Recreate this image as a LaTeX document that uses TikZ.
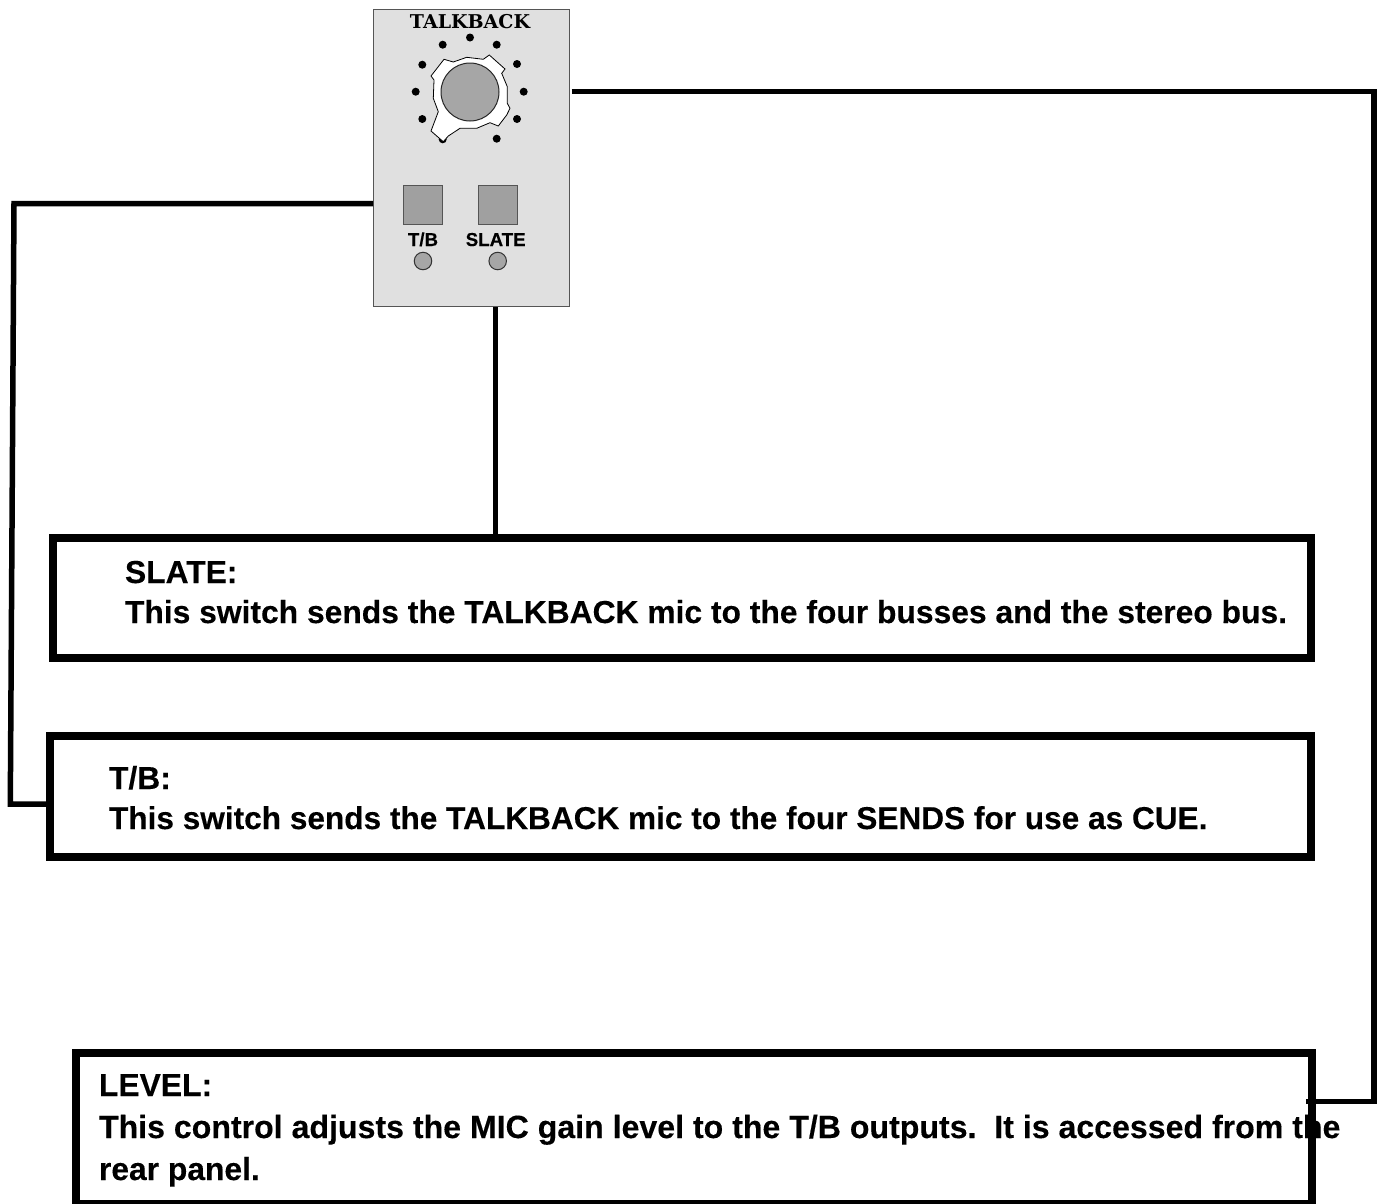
\documentclass[tikz,border=0pt]{standalone}
\usepackage{fontspec}
\setmainfont{Liberation Sans}[BoldFeatures={FakeBold=0.25}]
\newfontfamily\panelserif{DejaVu Serif}
\definecolor{panelfill}{HTML}{E0E0E0}
\definecolor{panelline}{HTML}{555555}
\definecolor{knobgray}{HTML}{A6A6A6}
\definecolor{btngray}{HTML}{A0A0A0}
\tikzset{
  every node/.style={outer sep=0pt},
  notebox/.style={draw=black,line width=8pt,inner sep=0pt,anchor=north west},
  wire/.style={draw=black,line width=5.5pt,line cap=butt,line join=miter},
  note/.style={anchor=base west,inner sep=0pt,font=\fontsize{31.8}{36}\selectfont\bfseries},
  paneltext/.style={inner sep=0pt,anchor=base,font=\fontsize{18.7}{20}\selectfont\bfseries},
  btn/.style={draw=panelline,line width=1pt,fill=btngray,minimum width=39pt,minimum height=39pt,inner sep=0pt},
  led/.style={circle,draw=black!80,line width=1pt,fill=knobgray,minimum size=17.5pt,inner sep=0pt},
  tick/.style={circle,fill=black,minimum size=8pt,inner sep=0pt}
}
\begin{document}
\begin{tikzpicture}[x=1pt,y=-1pt]
\useasboundingbox (0,0) rectangle (1384,1203);
% panel
\node[draw=panelline,line width=1pt,fill=panelfill,minimum width=196.3pt,minimum height=297.4pt,inner sep=0pt,anchor=north west] (panel) at (373,9.3) {};
\node[inner sep=0pt,font=\panelserif\fontsize{19}{20}\selectfont\bfseries] (title) at (470,21.5) {TALKBACK};
% knob scale
\foreach \n/\a/\b in {a/470/37.5,b/442.7/44.7,c/496.7/44.7,d/422.3/64.7,e/517/64,f/415.7/91.7,g/523.7/91.7,h/422.3/119,i/517/119,j/442.7/139.3,k/496.7/138.7}
  \node[tick] (dot\n) at (\a,\b) {};
\draw[fill=white,draw=black,line width=0.8pt] (444,59.3) -- (453.3,62) -- (466.7,57.3) -- (483.3,59.3) -- (489.3,55) -- (505,69) -- (501.7,73.3) -- (507.3,86.7) -- (507.3,103.3) -- (510,108.3) -- (506.7,115) -- (498.3,126) -- (490,122.7) -- (476.7,128.3) -- (460,128.3) -- (448.3,136) -- (443.3,141.7) -- (431,131) -- (438.3,111.7) -- (433.3,98.3) -- (434,80) -- (431,76) -- cycle;
\node[circle,draw=black!85,line width=1pt,fill=knobgray,minimum size=58pt,inner sep=0pt] (knob) at (470,92) {};
% buttons
\node[btn] (tbbtn) at (423.3,205.2) {};
\node[btn] (slatebtn) at (497.7,205.2) {};
\node[paneltext] (tblabel) at (423,246) {T/B};
\node[paneltext] (slatelabel) at (495.7,246) {SLATE};
\node[led] (tbled) at (423,261) {};
\node[led] (slateled) at (497.7,261) {};
% boxes
\node[notebox,minimum width=1258.7pt,minimum height=120.6pt] (slatebox) at (52.7,537.7) {};
\node[notebox,minimum width=1261.1pt,minimum height=120.7pt] (tbbox) at (50.3,736) {};
\node[notebox,minimum width=1235.7pt,minimum height=151.3pt] (levelbox) at (76,1052.7) {};
% connectors
\coordinate (tbcorner1) at (14,203.5);
\coordinate (tbcorner2) at (10.3,804);
\coordinate (levelstart) at (571.7,91.7);
\coordinate (levelcorner1) at (1374,91.7);
\coordinate (levelcorner2) at (1374,1101.7);
\coordinate (levelend) at (1305.7,1101.7);
\coordinate (slatetop) at (495.7,307);
\draw[wire] (panel.west |- tbcorner1) -- (tbcorner1) -- (tbcorner2) -- (tbbox.west |- tbcorner2);
\draw[wire] (slatetop) -- (slatetop |- slatebox.north);
\draw[wire] (levelstart) -- (levelcorner1) -- (levelcorner2) -- (levelend);
% texts
\node[note] (t1a) at (125,583) {SLATE:};
\node[note] (t1b) at (125,623) {This switch sends the TALKBACK mic to the four busses and the stereo bus.};
\node[note] (t2a) at (109,789) {T/B:};
\node[note,font=\fontsize{31.6}{36}\selectfont\bfseries] (t2b) at (109,829) {This switch sends the TALKBACK mic to the four SENDS for use as CUE.};
\node[note] (t3a) at (99,1096) {LEVEL:};
\node[note,font=\fontsize{32.1}{36}\selectfont\bfseries] (t3b) at (99,1138) {This control adjusts the MIC gain level to the T/B outputs.\ \ It is accessed from the};
\node[note] (t3c) at (99,1180) {rear panel.};
\end{tikzpicture}
\end{document}
